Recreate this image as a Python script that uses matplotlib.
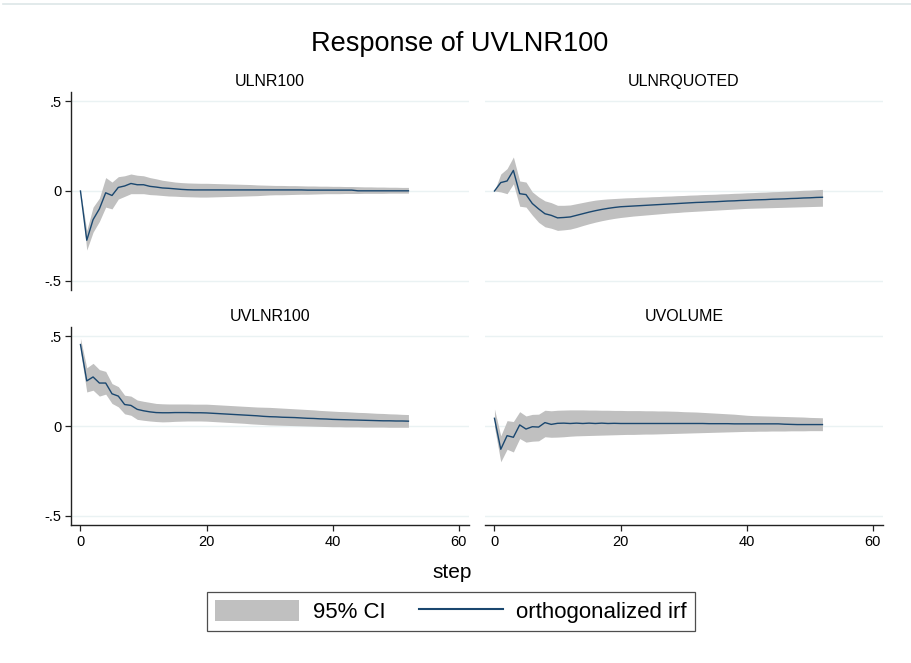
import matplotlib
matplotlib.use("Agg")
import matplotlib.pyplot as plt
import numpy as np
from matplotlib.patches import Patch
from matplotlib.lines import Line2D

plt.rcParams['font.family'] = ['Liberation Sans', 'DejaVu Sans']

# Orthogonalized IRF of UVLNR100 to each impulse, with 95% bands
steps = np.arange(53)

ulnr100_irf = [0.0, -0.275, -0.16, -0.10, -0.01, -0.025, 0.02, 0.028, 0.042, 0.035,
               0.035, 0.026, 0.022, 0.017, 0.015, 0.012, 0.009, 0.007, 0.006, 0.006,
               0.006, 0.006, 0.006, 0.006, 0.006, 0.006, 0.006, 0.006, 0.006, 0.006,
               0.006, 0.006, 0.006, 0.006, 0.006, 0.006, 0.005, 0.005, 0.005, 0.005,
               0.005, 0.005, 0.005, 0.005, 0.001, 0.001, 0.001, 0.001, 0.001, 0.001,
               0.001, 0.001, 0.001]
ulnr100_lo = [0.0, -0.33, -0.23, -0.17, -0.09, -0.10, -0.045, -0.03, -0.015, -0.015,
              -0.015, -0.02, -0.022, -0.025, -0.028, -0.029, -0.031, -0.032, -0.033, -0.034,
              -0.034, -0.033, -0.032, -0.031, -0.030, -0.029, -0.028, -0.027, -0.026, -0.024,
              -0.022, -0.021, -0.021, -0.020, -0.019, -0.018, -0.018, -0.017, -0.016, -0.015,
              -0.015, -0.015, -0.014, -0.014, -0.014, -0.013, -0.013, -0.013, -0.013, -0.012,
              -0.012, -0.012, -0.012]
ulnr100_hi = [0.0, -0.22, -0.09, -0.04, 0.075, 0.05, 0.08, 0.085, 0.095, 0.088,
              0.085, 0.075, 0.068, 0.060, 0.055, 0.050, 0.047, 0.045, 0.044, 0.043,
              0.043, 0.042, 0.041, 0.040, 0.039, 0.038, 0.037, 0.036, 0.034, 0.033,
              0.032, 0.031, 0.031, 0.030, 0.030, 0.029, 0.028, 0.028, 0.027, 0.027,
              0.026, 0.026, 0.025, 0.025, 0.024, 0.023, 0.023, 0.022, 0.022, 0.021,
              0.021, 0.020, 0.020]

ulnrquoted_irf = [0.0, 0.047, 0.056, 0.115, -0.015, -0.02, -0.07, -0.10, -0.127, -0.136,
                  -0.150, -0.148, -0.145, -0.136, -0.127, -0.118, -0.110, -0.103, -0.097, -0.092,
                  -0.088, -0.086, -0.084, -0.082, -0.080, -0.078, -0.076, -0.074, -0.072, -0.070,
                  -0.068, -0.066, -0.064, -0.063, -0.061, -0.060, -0.058, -0.056, -0.055, -0.053,
                  -0.052, -0.050, -0.049, -0.048, -0.046, -0.045, -0.044, -0.042, -0.041, -0.039,
                  -0.038, -0.036, -0.035]
ulnrquoted_lo = [0.0, -0.005, -0.015, 0.04, -0.085, -0.09, -0.135, -0.175, -0.200, -0.208,
                 -0.220, -0.217, -0.213, -0.204, -0.193, -0.183, -0.174, -0.166, -0.159, -0.153,
                 -0.148, -0.144, -0.140, -0.137, -0.134, -0.131, -0.128, -0.125, -0.122, -0.120,
                 -0.117, -0.115, -0.113, -0.111, -0.109, -0.107, -0.105, -0.103, -0.101, -0.099,
                 -0.097, -0.096, -0.095, -0.094, -0.093, -0.092, -0.091, -0.090, -0.089, -0.088,
                 -0.087, -0.086, -0.085]
ulnrquoted_hi = [0.0, 0.095, 0.125, 0.19, 0.056, 0.05, -0.005, -0.033, -0.055, -0.065,
                 -0.080, -0.080, -0.078, -0.071, -0.064, -0.057, -0.051, -0.047, -0.044, -0.042,
                 -0.040, -0.038, -0.037, -0.035, -0.034, -0.032, -0.031, -0.029, -0.028, -0.026,
                 -0.025, -0.023, -0.022, -0.020, -0.019, -0.018, -0.016, -0.015, -0.013, -0.012,
                 -0.010, -0.009, -0.007, -0.006, -0.004, -0.003, -0.001, 0.000, 0.002, 0.004,
                 0.005, 0.007, 0.009]

uvlnr100_irf = [0.455, 0.252, 0.274, 0.240, 0.240, 0.180, 0.167, 0.120, 0.115, 0.093,
                0.085, 0.079, 0.075, 0.074, 0.074, 0.075, 0.075, 0.075, 0.074, 0.074,
                0.073, 0.071, 0.069, 0.067, 0.065, 0.063, 0.061, 0.059, 0.057, 0.054,
                0.052, 0.051, 0.049, 0.048, 0.047, 0.045, 0.043, 0.042, 0.040, 0.039,
                0.037, 0.036, 0.035, 0.034, 0.033, 0.032, 0.031, 0.030, 0.029, 0.029,
                0.028, 0.028, 0.027]
uvlnr100_lo = [0.420, 0.190, 0.200, 0.167, 0.178, 0.126, 0.107, 0.068, 0.060, 0.037,
               0.032, 0.028, 0.025, 0.023, 0.024, 0.026, 0.027, 0.028, 0.028, 0.028,
               0.027, 0.025, 0.023, 0.021, 0.019, 0.017, 0.015, 0.012, 0.010, 0.008,
               0.006, 0.005, 0.004, 0.003, 0.002, 0.001, 0.000, -0.001, -0.002, -0.003,
               -0.004, -0.004, -0.005, -0.005, -0.005, -0.006, -0.006, -0.006, -0.006, -0.007,
               -0.007, -0.007, -0.007]
uvlnr100_hi = [0.490, 0.325, 0.350, 0.315, 0.305, 0.237, 0.220, 0.172, 0.167, 0.145,
               0.138, 0.132, 0.126, 0.124, 0.123, 0.123, 0.123, 0.123, 0.122, 0.122,
               0.122, 0.120, 0.118, 0.116, 0.114, 0.112, 0.110, 0.108, 0.106, 0.105,
               0.104, 0.102, 0.100, 0.098, 0.096, 0.094, 0.092, 0.090, 0.087, 0.085,
               0.083, 0.081, 0.080, 0.078, 0.076, 0.075, 0.073, 0.071, 0.070, 0.068,
               0.067, 0.065, 0.064]

uvolume_irf = [0.043, -0.130, -0.054, -0.063, 0.006, -0.017, -0.004, -0.006, 0.019, 0.009,
               0.015, 0.016, 0.014, 0.016, 0.014, 0.016, 0.014, 0.016, 0.014, 0.015,
               0.014, 0.014, 0.014, 0.014, 0.014, 0.014, 0.014, 0.014, 0.014, 0.014,
               0.014, 0.014, 0.014, 0.014, 0.013, 0.013, 0.013, 0.013, 0.012, 0.012,
               0.012, 0.012, 0.012, 0.012, 0.012, 0.012, 0.010, 0.009, 0.008, 0.008,
               0.008, 0.008, 0.008]
uvolume_lo = [-0.005, -0.200, -0.130, -0.145, -0.070, -0.090, -0.085, -0.083, -0.060, -0.063,
              -0.062, -0.060, -0.057, -0.055, -0.054, -0.053, -0.052, -0.051, -0.050, -0.049,
              -0.048, -0.047, -0.047, -0.046, -0.045, -0.045, -0.044, -0.043, -0.042, -0.041,
              -0.040, -0.039, -0.038, -0.037, -0.036, -0.035, -0.034, -0.033, -0.032, -0.031,
              -0.030, -0.030, -0.029, -0.029, -0.028, -0.028, -0.028, -0.027, -0.027, -0.027,
              -0.026, -0.026, -0.026]
uvolume_hi = [0.095, -0.055, 0.030, 0.025, 0.080, 0.056, 0.065, 0.066, 0.088, 0.085,
              0.088, 0.089, 0.090, 0.090, 0.090, 0.089, 0.089, 0.088, 0.088, 0.087,
              0.087, 0.086, 0.086, 0.086, 0.085, 0.085, 0.084, 0.084, 0.083, 0.082,
              0.080, 0.079, 0.078, 0.076, 0.074, 0.072, 0.070, 0.068, 0.066, 0.063,
              0.060, 0.058, 0.057, 0.056, 0.055, 0.054, 0.053, 0.052, 0.051, 0.050,
              0.048, 0.047, 0.046]

impulses = ["ULNR100", "ULNRQUOTED", "UVLNR100", "UVOLUME"]
panels = [(ulnr100_irf, ulnr100_lo, ulnr100_hi),
          (ulnrquoted_irf, ulnrquoted_lo, ulnrquoted_hi),
          (uvlnr100_irf, uvlnr100_lo, uvlnr100_hi),
          (uvolume_irf, uvolume_lo, uvolume_hi)]

navy = "#1a476f"
band = "#c0c0c0"
grid = "#eaf2f3"

fig = plt.figure(figsize=(9.11, 6.63), dpi=100)
W, H = 911, 663

# axes boxes in pixels: left, top, right, bottom
boxes = [(71, 92, 469, 290), (485, 92, 883, 290),
         (71, 327, 469, 525), (485, 327, 883, 525)]

for i, (name, (irf, lo, hi)) in enumerate(zip(impulses, panels)):
    l, t, r, b = boxes[i]
    ax = fig.add_axes([l / W, 1 - b / H, (r - l) / W, (b - t) / H])
    ax.fill_between(steps, lo, hi, color=band, lw=0)
    ax.plot(steps, irf, color=navy, lw=1.0)
    ax.set_xlim(-1.5, 61.6)
    ax.set_ylim(-0.553, 0.553)
    ax.set_yticks([-0.5, 0, 0.5])
    ax.set_yticklabels(["-.5", "0", ".5"])
    ax.set_xticks([0, 20, 40, 60])
    ax.yaxis.grid(True, color=grid, lw=1.0)
    ax.set_axisbelow(True)
    for s in ax.spines.values():
        s.set_visible(False)
    ax.tick_params(direction="out", length=4, width=0.9, labelsize=10.5,
                   pad=3, color="#222222")
    left_col = i % 2 == 0
    bottom_row = i >= 2
    if left_col:
        ax.spines["left"].set_visible(True)
        ax.spines["left"].set_linewidth(1.0)
        ax.spines["left"].set_color("#222222")
    else:
        ax.tick_params(axis="y", length=0, labelleft=False)
    if bottom_row:
        ax.spines["bottom"].set_visible(True)
        ax.spines["bottom"].set_linewidth(1.0)
        ax.spines["bottom"].set_color("#222222")
    else:
        ax.tick_params(axis="x", length=0, labelbottom=False)
    ax.set_title(name, fontsize=11.5, pad=4)

fig.text(460 / W, 1 - 44 / H, "Response of UVLNR100", ha="center", va="center",
         fontsize=19.5)
fig.text(452 / W, 1 - 573 / H, "step", ha="center", va="center", fontsize=15)

# thin rule along the top edge
fig.add_artist(Line2D([3 / W, 1], [1 - 3.5 / H] * 2, color="#dde6e7", lw=1.2))

handles = [Patch(facecolor=band, edgecolor="none"),
           Line2D([], [], color=navy, lw=1.5)]
leg = fig.legend(handles, ["95% CI", "orthogonalized irf"], ncol=2, loc="center",
                 bbox_to_anchor=(451 / W, 1 - 611.5 / H), fontsize=16,
                 frameon=True, fancybox=False, handlelength=3.8, handleheight=1.1,
                 handletextpad=0.6, columnspacing=1.5, borderpad=0.35,
                 borderaxespad=0)
leg.get_frame().set_edgecolor("#222222")
leg.get_frame().set_linewidth(0.9)

fig.savefig("out.png", dpi=100, facecolor="white")
